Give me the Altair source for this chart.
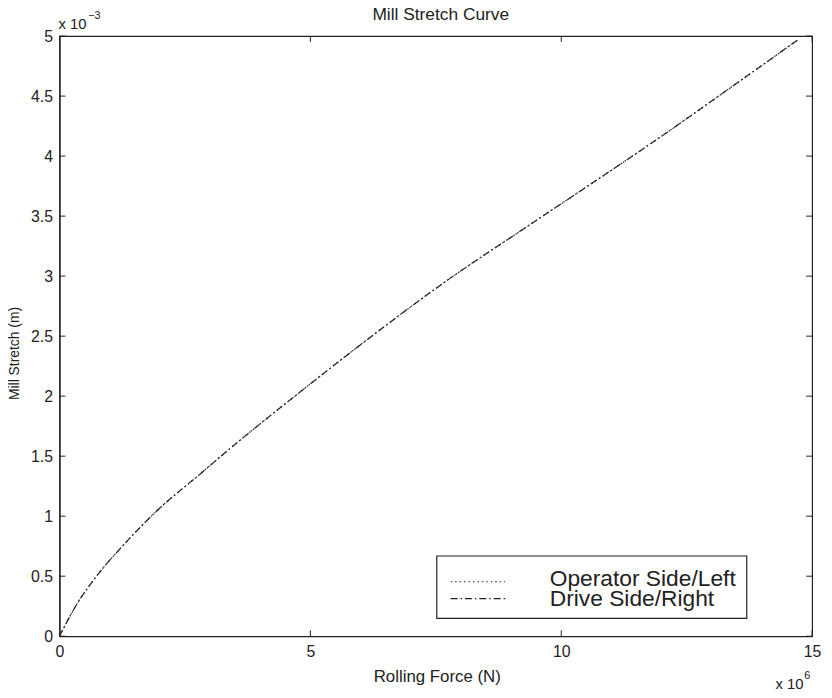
import altair as alt
import pandas as pd

# ---- data (x in 1e6 N, y in 1e-3 m) ----
force = [0, 0.35, 0.72, 1.32, 1.98, 2.77, 3.56, 4.6, 6.13, 7.71, 9.2, 10.67, 11.7, 13.44, 14.72]
stretch = [0, 0.27, 0.49, 0.78, 1.06, 1.34, 1.62, 1.97, 2.47, 2.96, 3.38, 3.79, 4.08, 4.59, 4.97]
series = ["Operator Side/Left", "Drive Side/Right"]
dashes = [[1.5, 3], [7, 3, 1.5, 3]]
x_ticks = [0, 5, 10, 15]
y_ticks = [0, 0.5, 1, 1.5, 2, 2.5, 3, 3.5, 4, 4.5, 5]
title_text = ["Mill Stretch Curve"]
y_exp_base = ["x 10"]
y_exp_sup = ["\u22123"]
x_exp_base = ["x 10"]
x_exp_sup = ["6"]

FONT = "Liberation Sans"
INK = "#222"
W, H = 760, 606

rows = []
for s in series:
    for f, m in zip(force, stretch):
        rows.append({"force": f, "stretch": m, "side": s})
df = pd.DataFrame(rows)

xscale = alt.Scale(domain=[0, 15], nice=False, zero=False)
yscale = alt.Scale(domain=[0, 5], nice=False, zero=False)

lines = alt.Chart(df).mark_line(color=INK, strokeWidth=1.2, interpolate="monotone").encode(
    x=alt.X("force:Q", scale=xscale,
            axis=alt.Axis(title="Rolling Force (N)", values=x_ticks, format="~g",
                          titleFontSize=17, titleX=381, titlePadding=10)),
    y=alt.Y("stretch:Q", scale=yscale,
            axis=alt.Axis(title="Mill Stretch (m)", values=y_ticks, format="~g",
                          titleFontSize=14, titleY=320, titlePadding=9)),
    strokeDash=alt.StrokeDash("side:N", scale=alt.Scale(domain=series, range=dashes),
                              legend=None),
    order=alt.Order("force:Q"),
)

# inward ticks on all four sides (MATLAB style box)
xt = pd.DataFrame({"v": x_ticks})
yt = pd.DataFrame({"v": y_ticks})
tick_style = dict(color=INK, strokeWidth=1)
xb = alt.Chart(xt).mark_rule(**tick_style).encode(
    x=alt.X("v:Q", scale=xscale), y=alt.value(H), y2=alt.value(H - 6))
xtp = alt.Chart(xt).mark_rule(**tick_style).encode(
    x=alt.X("v:Q", scale=xscale), y=alt.value(0), y2=alt.value(6))
yl = alt.Chart(yt).mark_rule(**tick_style).encode(
    y=alt.Y("v:Q", scale=yscale), x=alt.value(0), x2=alt.value(6))
yr = alt.Chart(yt).mark_rule(**tick_style).encode(
    y=alt.Y("v:Q", scale=yscale), x=alt.value(W), x2=alt.value(W - 6))


def label(texts, x, y, size, align="left"):
    return alt.Chart(pd.DataFrame({"t": texts})).mark_text(
        align=align, baseline="alphabetic", fontSize=size, font=FONT, color=INK
    ).encode(text="t:N", x=alt.value(x), y=alt.value(y))


ann = (label(title_text, 385, -16, 17.5, "center")
       + label(y_exp_base, -1, -7, 15) + label(y_exp_sup, 29, -17, 11)
       + label(x_exp_base, 723, 659, 15) + label(x_exp_sup, 752, 649, 11))

# legend box (MATLAB style)
leg_box = alt.Chart(pd.DataFrame({"t": [0]})).mark_rect(
    fill="white", stroke=INK, strokeWidth=1.2
).encode(x=alt.value(381), x2=alt.value(694), y=alt.value(525), y2=alt.value(588))
leg_sym1 = alt.Chart(pd.DataFrame({"side": [series[0]]})).mark_rule(
    color=INK, strokeWidth=1.2, strokeDash=dashes[0]
).encode(x=alt.value(395), x2=alt.value(450), y=alt.value(551))
leg_sym2 = alt.Chart(pd.DataFrame({"side": [series[1]]})).mark_rule(
    color=INK, strokeWidth=1.2, strokeDash=dashes[1]
).encode(x=alt.value(395), x2=alt.value(450), y=alt.value(568))
leg_txt = label([series[0]], 495, 555, 23) + label([series[1]], 495, 575, 23)

chart = alt.layer(lines, xb, xtp, yl, yr, ann, leg_box, leg_sym1, leg_sym2, leg_txt).properties(
    width=W, height=H,
    autosize=alt.AutoSizeParams(type="none"),
    padding={"left": 52, "top": 25, "right": 12, "bottom": 57},
).configure_view(stroke=INK, strokeWidth=1.2).configure_axis(
    grid=False, ticks=False, domainColor=INK, domainWidth=1.2,
    labelFont=FONT, labelFontSize=16, labelColor=INK, labelPadding=7,
    titleFont=FONT, titleFontWeight="normal", titleColor=INK,
).configure_axisX(labelFlush=False).configure_axisY(labelFlush=False)

chart.save("out.html", embed_options={"renderer": "svg", "actions": False})
